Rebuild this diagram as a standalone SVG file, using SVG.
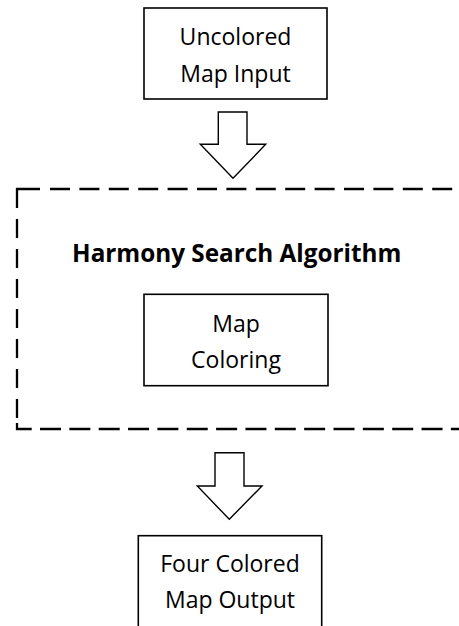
<svg xmlns="http://www.w3.org/2000/svg" width="459" height="626" viewBox="0 0 459 626">
<style>
.box{fill:#fff;stroke:#000;stroke-width:1.6}
.arrow{fill:#fff;stroke:#000;stroke-width:1.4;stroke-linejoin:miter}
.dash{fill:none;stroke:#000;stroke-width:2.3}
.t{font-family:"Open Sans","Liberation Sans",sans-serif;font-size:23px;fill:#000;text-anchor:middle}
.b{font-weight:bold;font-size:24.3px}
</style>
<rect width="459" height="626" fill="#fff"/>
<g id="hsa">
<path class="dash" d="M17,208 V189 H40"/>
<path class="dash" d="M50,189 H470" stroke-dasharray="20 9.4"/>
<path class="dash" d="M17,219 V418" stroke-dasharray="19 11"/>
<path class="dash" d="M17,423 V429 H31.7"/>
<path class="dash" d="M40,429 H470" stroke-dasharray="21 8.35"/>
<text class="t b" x="236.7" y="261.7">Harmony Search Algorithm</text>
</g>
<g id="input">
<rect class="box" x="144" y="8" width="183" height="91"/>
<text class="t" x="235.5" y="45">Uncolored</text>
<text class="t" x="235.5" y="82">Map Input</text>
</g>
<g id="coloring">
<rect class="box" x="144" y="294.3" width="184" height="91.4"/>
<text class="t" x="236" y="331.7">Map</text>
<text class="t" x="236" y="368.3">Coloring</text>
</g>
<g id="output">
<rect class="box" x="138.3" y="535.7" width="183.4" height="110"/>
<text class="t" x="230" y="571.7">Four Colored</text>
<text class="t" x="230" y="608.3">Map Output</text>
</g>
<g id="connectors">
<polygon class="arrow" points="218.3,112 247,112 247,144.3 265.7,144.3 233,178.3 200.3,144.3 218.3,144.3"/>
<polygon class="arrow" points="215,452.7 244,452.7 244,486 262,486 229.3,519.3 197.3,486 215,486"/>
</g>
</svg>
